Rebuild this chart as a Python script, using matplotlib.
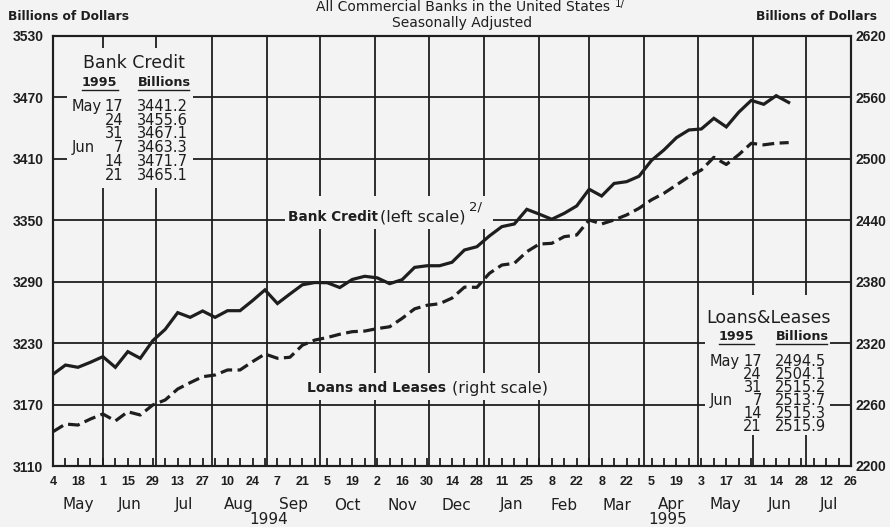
import numpy as np
import pandas as pd
import matplotlib
matplotlib.use("Agg")
import matplotlib.pyplot as plt
import matplotlib.dates as mdates
import matplotlib.transforms as mtransforms
from matplotlib.patches import Rectangle

# ---------------- data ----------------
start_date = "1994-05-04"
bank_credit = [3199.6, 3208.6, 3206.4, 3211.3, 3216.8, 3206.4, 3221.7, 3215.2, 3232.4, 3243.5,
               3259.8, 3255.2, 3261.4, 3255.2, 3261.7, 3261.7, 3271.5, 3282.0, 3268.7, 3278.0,
               3287.0, 3289.2, 3289.0, 3284.3, 3292.2, 3295.3, 3293.8, 3288.1, 3292.0, 3304.0,
               3305.6, 3305.6, 3309.0, 3321.0, 3324.2, 3334.7, 3343.8, 3346.4, 3360.7, 3356.0,
               3351.0, 3356.8, 3364.0, 3380.3, 3373.7, 3386.0, 3387.7, 3393.0, 3408.5, 3418.7,
               3430.7, 3438.2, 3439.2, 3449.6, 3441.2, 3455.6, 3467.1, 3463.3, 3471.7, 3465.1]
loans_leases = [2233.5, 2241.0, 2240.0, 2245.9, 2250.8, 2244.0, 2253.0, 2249.8, 2259.6, 2264.5,
                2275.2, 2281.4, 2287.2, 2288.9, 2293.8, 2293.8, 2301.9, 2309.4, 2305.2, 2306.2,
                2318.0, 2323.0, 2325.5, 2328.7, 2331.2, 2331.8, 2334.2, 2336.0, 2344.2, 2353.5,
                2357.0, 2358.5, 2364.0, 2374.7, 2374.5, 2388.2, 2396.3, 2398.0, 2409.3, 2416.8,
                2417.5, 2424.0, 2425.6, 2440.3, 2436.4, 2440.3, 2445.2, 2451.7, 2460.0, 2466.4,
                2474.5, 2482.6, 2489.1, 2501.5, 2494.5, 2504.1, 2515.2, 2513.7, 2515.3, 2515.9]

left_ticks = [3110, 3170, 3230, 3290, 3350, 3410, 3470, 3530]
right_ticks = [2200, 2260, 2320, 2380, 2440, 2500, 2560, 2620]
week_labels = ["4", "18", "1", "15", "29", "13", "27", "10", "24", "7", "21", "5", "19",
               "2", "16", "30", "14", "28", "11", "25", "8", "22", "8", "22", "5", "19",
               "3", "17", "31", "14", "28", "12", "26"]
month_names = ["May", "Jun", "Jul", "Aug", "Sep", "Oct", "Nov", "Dec",
               "Jan", "Feb", "Mar", "Apr", "May", "Jun", "Jul"]
years = ["1994", "1995"]

table_months = ["May", "", "", "Jun", "", ""]
table_days = ["17", "24", "31", "7", "14", "21"]
bc_table_vals = ["3441.2", "3455.6", "3467.1", "3463.3", "3471.7", "3465.1"]
ll_table_vals = ["2494.5", "2504.1", "2515.2", "2513.7", "2515.3", "2515.9"]

# ---------------- figure ----------------
W, H = 890, 527
BG = "#f3f3f3"
INK = "#1e1e1e"
fig = plt.figure(figsize=(W / 100, H / 100), dpi=100, facecolor=BG)

AX_L, AX_R, AX_T, AX_B = 53, 851, 36, 466
ax = fig.add_axes([AX_L / W, 1 - AX_B / H, (AX_R - AX_L) / W, (AX_B - AX_T) / H])
ax.set_facecolor(BG)
ax2 = ax.twinx()

dates = pd.date_range(start_date, periods=len(bank_credit), freq="7D")
xmin = pd.Timestamp("1994-05-04")
xmax = pd.Timestamp("1995-07-26")

ax.set_xlim(xmin, xmax)
ax.set_ylim(left_ticks[0], left_ticks[-1])
ax2.set_ylim(right_ticks[0], right_ticks[-1])

# grid
for v in left_ticks[1:-1]:
    ax.axhline(v, color=INK, lw=1.3, zorder=1)
month_starts = pd.date_range("1994-06-01", "1995-07-01", freq="MS")
for d in month_starts:
    ax.axvline(d, color=INK, lw=1.3, zorder=1)

# series
ax.plot(dates, bank_credit, color=INK, lw=2.3, solid_joinstyle="miter", zorder=3)
ax2.plot(dates, loans_leases, color=INK, lw=2.3, dashes=(3.7, 1.7), dash_capstyle="butt", zorder=3)

# spines
for a in (ax, ax2):
    for s in a.spines.values():
        s.set_color(INK)
        s.set_linewidth(1.5)

tickfont = "Liberation Sans"

ax.set_yticks(left_ticks)
ax.set_yticklabels([str(v) for v in left_ticks], fontfamily=tickfont, fontsize=10,
                   fontweight="bold", color=INK)
ax2.set_yticks(right_ticks)
ax2.set_yticklabels([str(v) for v in right_ticks], fontfamily=tickfont, fontsize=10,
                    fontweight="bold", color=INK)
ax.tick_params(axis="y", length=0, pad=7)
ax2.tick_params(axis="y", length=0, pad=3)

week_ticks = pd.date_range(xmin, xmax, freq="7D")
ax.set_xticks(week_ticks)
labels = []
for i in range(len(week_ticks)):
    labels.append(week_labels[i // 2] if i % 2 == 0 else "")
ax.set_xticklabels(labels, fontfamily=tickfont, fontsize=9, fontweight="bold", color=INK)
ax.tick_params(axis="x", direction="in", length=6, width=1.3, color=INK, pad=7)

# month labels
trans = mtransforms.blended_transform_factory(ax.transData, fig.transFigure)
edges = [xmin] + list(month_starts) + [xmax]
for i, name in enumerate(month_names):
    a, b = edges[i], edges[i + 1]
    c = a + (b - a) / 2
    ax.text(mdates.date2num(c), 1 - 505 / H, name, transform=trans, ha="center", va="center",
            fontsize=11, color=INK)
year_edges = [(xmin, pd.Timestamp("1995-01-01")), (pd.Timestamp("1995-01-01"), xmax)]
for y, (a, b) in zip(years, year_edges):
    c = a + (b - a) / 2
    ax.text(mdates.date2num(c), 1 - 520 / H, y, transform=trans, ha="center", va="center",
            fontsize=11, color=INK)


def P(x, y):
    return x / W, 1 - y / H


def cover(x0, y0, x1, y1):
    r = Rectangle(P(x0, y1), (x1 - x0) / W, (y1 - y0) / H, transform=fig.transFigure,
                  facecolor=BG, edgecolor="none", zorder=1)
    fig.patches.append(r)


# covers for text boxes
cover(67, 48, 193, 188)
cover(705, 295, 830, 435)
cover(285, 196, 493, 229)
cover(300, 373, 551, 400)

# headers
fig.text(*P(463, 7), "All Commercial Banks in the United States", ha="center", va="center",
         fontsize=10, color=INK)
fig.text(*P(615, 4), "1/", ha="left", va="center", fontsize=7.5, color=INK)
fig.text(*P(462, 23), "Seasonally Adjusted", ha="center", va="center", fontsize=10, color=INK)
fig.text(*P(8, 17), "Billions of Dollars", ha="left", va="center", fontsize=8.8,
         fontweight="bold", color=INK)
fig.text(*P(877, 17), "Billions of Dollars", ha="right", va="center", fontsize=8.8,
         fontweight="bold", color=INK)

# series labels
fig.text(*P(288, 217), "Bank Credit", ha="left", va="center", fontsize=9.8,
         fontweight="bold", color=INK)
fig.text(*P(380, 217), "(left scale)", ha="left", va="center", fontsize=11.6, color=INK)
fig.text(*P(469, 207), "2/", ha="left", va="center", fontsize=9.5, color=INK)
fig.text(*P(307, 388), "Loans and Leases", ha="left", va="center", fontsize=10,
         fontweight="bold", color=INK)
fig.text(*P(452, 388), "(right scale)", ha="left", va="center", fontsize=11.4, color=INK)


def table(x_title, y_title, title, x_year, x_bill, y_head, x_month, x_day, x_val,
          y_first, pitch, vals):
    fig.text(*P(x_title, y_title), title, ha="left", va="center", fontsize=12.5, color=INK)
    for xx, s in ((x_year, "1995"), (x_bill, "Billions")):
        fig.text(*P(xx, y_head), s, ha="left", va="center", fontsize=9.2, color=INK,
                 fontweight="bold")
    fs = 10.5
    ls = 1.09 * pitch / (fs * 100 / 72 * 1.17)
    y_top = y_first - 7
    kw = dict(va="top", fontsize=fs, color=INK, linespacing=ls)
    fig.text(*P(x_month, y_top), "\n".join(m if m else " " for m in table_months), ha="left", **kw)
    fig.text(*P(x_day, y_top), "\n".join(table_days), ha="right", **kw)
    fig.text(*P(x_val, y_top), "\n".join(vals), ha="left", **kw)


table(83, 63, "Bank Credit", 82, 138, 82, 72, 123, 137, 106, 14.0, bc_table_vals)
table(706, 318, "Loans&Leases", 719, 776, 336, 710, 762, 775, 361, 13.0, ll_table_vals)

# underlines for table headings
for (x0, x1, yy) in ((82, 118, 90), (138, 189, 90), (719, 754, 344), (776, 827, 344)):
    fig.add_artist(plt.Line2D([x0 / W, x1 / W], [1 - yy / H, 1 - yy / H], transform=fig.transFigure,
                              color=INK, lw=1.0))

fig.savefig("out.png", dpi=100, facecolor=BG)
